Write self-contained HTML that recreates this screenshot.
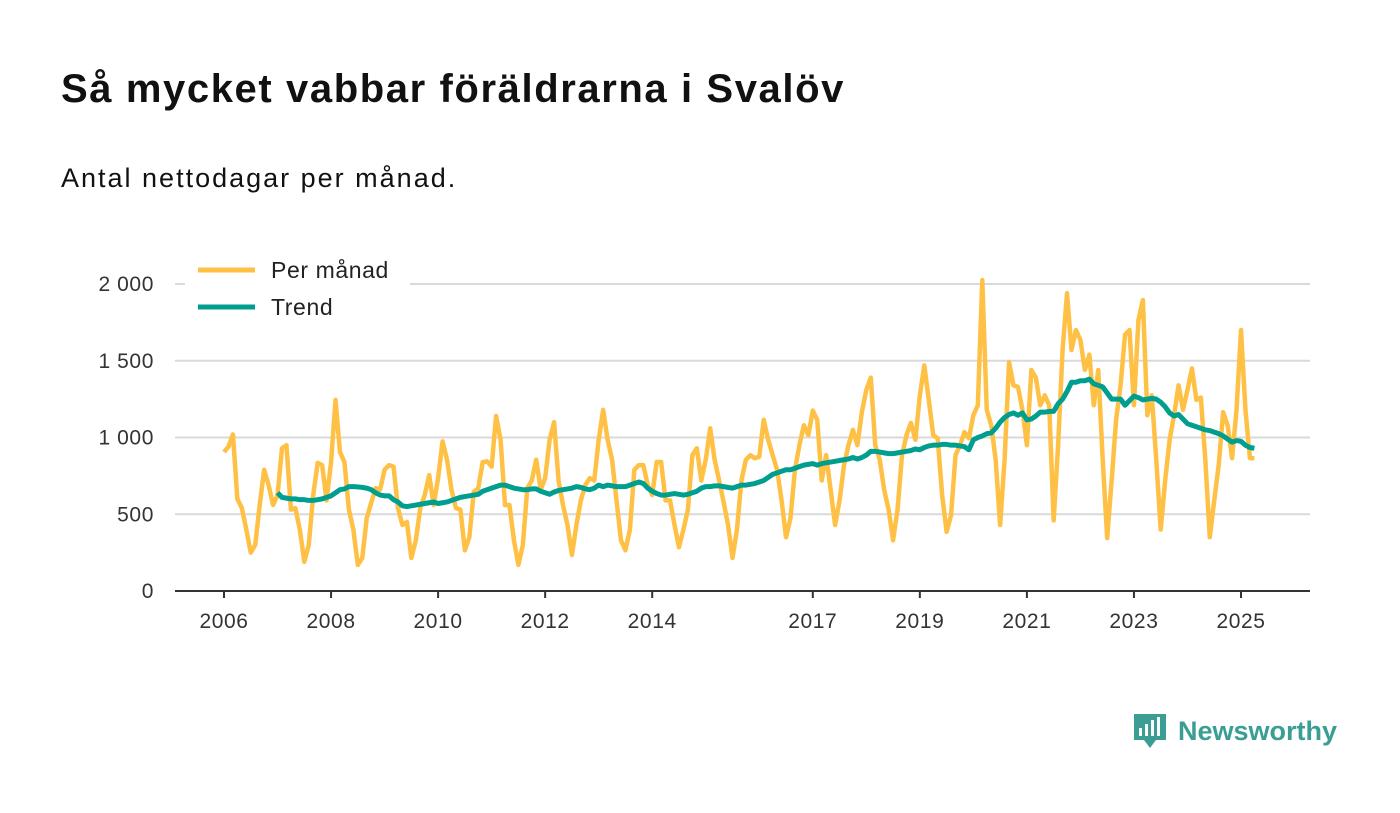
<!DOCTYPE html>
<html><head><meta charset="utf-8">
<style>
body{margin:0;background:#fff;width:1400px;height:813px;overflow:hidden;font-family:"Liberation Sans",sans-serif;}
#title{position:absolute;left:61px;top:67px;font-size:40px;font-weight:bold;color:#111;margin:0;letter-spacing:1.6px}
#sub{position:absolute;left:61px;top:163px;font-size:27px;color:#111;letter-spacing:2px}
svg{position:absolute;left:0;top:0}
</style></head><body>
<h1 id="title">Så mycket vabbar föräldrarna i Svalöv</h1>
<div id="sub">Antal nettodagar per månad.</div>
<svg id="chart" width="1400" height="813"></svg>
<script>
const yTicks=[0,500,1000,1500,2000];
const yTickLabels=["0","500","1 000","1 500","2 000"];
const xTickYears=[2006,2008,2010,2012,2014,2017,2019,2021,2023,2025];
const monthly=[
905,940,1020,600,540,400,250,300,560,790,690,560,
625,930,950,530,540,400,190,300,625,835,820,590,
840,1245,905,840,530,400,170,215,475,575,670,660,
790,820,810,540,430,450,215,330,540,625,755,560,
735,975,855,660,540,530,265,350,645,670,840,845,
810,1140,985,560,560,330,170,300,670,720,855,660,
735,985,1100,720,560,430,235,430,590,690,735,720,
985,1180,985,855,590,330,265,400,790,820,820,690,
625,840,840,590,590,430,285,400,530,885,930,720,
855,1060,855,720,580,430,215,400,720,855,885,865,
875,1115,985,885,790,590,350,475,790,950,1080,1015,
1175,1115,720,885,660,430,590,820,950,1050,950,1165,
1310,1390,950,855,660,530,330,530,885,1015,1095,985,
1275,1470,1245,1015,995,625,385,495,885,950,1035,995,
1145,1210,2025,1180,1080,855,430,855,1490,1340,1330,1180,
950,1440,1390,1210,1275,1210,460,950,1570,1940,1570,1700,
1635,1440,1540,1210,1440,855,345,720,1115,1340,1670,1700,
1210,1765,1895,1145,1275,855,400,720,985,1145,1340,1180,
1310,1450,1245,1260,855,350,590,820,1165,1080,865,1180,
1700,1180,865,865];
const trendStart=12;
const trend=[
640,610,605,600,600,595,595,590,590,595,600,610,
620,640,660,665,680,680,678,675,670,660,640,625,
620,620,595,580,555,550,555,560,565,570,575,580,
570,575,580,590,600,610,615,620,625,630,650,660,
670,680,690,690,680,670,665,660,660,665,665,650,
640,630,645,655,660,665,670,680,675,665,660,670,
690,680,690,685,680,680,680,690,700,710,700,670,
650,635,625,625,630,635,630,625,630,640,650,670,
680,680,685,685,680,675,670,680,690,690,695,700,
710,720,740,760,770,780,790,790,800,810,820,825,
830,820,830,835,840,845,850,855,860,870,860,870,
885,910,910,905,900,895,895,900,905,910,915,925,
920,935,945,950,950,955,955,950,950,945,940,920,
985,1000,1010,1025,1030,1060,1100,1130,1150,1160,1145,1160,
1115,1120,1140,1165,1165,1170,1170,1220,1250,1300,1360,1360,
1370,1370,1380,1350,1340,1330,1290,1250,1250,1250,1210,1240,
1270,1260,1245,1250,1255,1250,1230,1200,1160,1140,1150,1120,
1090,1080,1070,1060,1050,1045,1035,1025,1010,990,970,980,
975,950,935,930];
const NS="http://www.w3.org/2000/svg";
const svg=document.getElementById('chart');
const x0=224,x1=1241;
const xm=i=>x0+i*(x1-x0)/(19*12);
const xy=yr=>xm((yr-2006)*12);
const y=v=>591-v*(591-284)/2000;
function mk(t,a){const e=document.createElementNS(NS,t);for(const k in a)e.setAttribute(k,a[k]);svg.appendChild(e);return e;}
yTicks.forEach((v,i)=>{
 if(v>0){const g=mk('line',{x1:175,x2:1310,y1:y(v),y2:y(v),stroke:'#d9d9d9','stroke-width':2});
 
 }
 const t=mk('text',{x:154,y:y(v)+7,'text-anchor':'end','font-size':21,fill:'#333','letter-spacing':0.6});
 t.textContent=yTickLabels[i];
 
 
});
const ax=mk('line',{x1:175,x2:1310,y1:591,y2:591,stroke:'#333','stroke-width':2});


xTickYears.forEach(yr=>{
 const tk=mk('line',{x1:xy(yr),x2:xy(yr),y1:591,y2:598,stroke:'#333','stroke-width':2});
 
 
 const t=mk('text',{x:xy(yr),y:628,'text-anchor':'middle','font-size':21,fill:'#333','letter-spacing':0.6});
 t.textContent=yr;
 
 
});
const pm=mk('polyline',{points:monthly.map((v,i)=>xm(i)+','+y(v)).join(' '),fill:'none',stroke:'#ffc145','stroke-width':4.5,'stroke-linejoin':'round'});


const tr=mk('polyline',{points:trend.map((v,i)=>xm(i+trendStart)+','+y(v)).join(' '),fill:'none',stroke:'#009e8f','stroke-width':5,'stroke-linejoin':'round'});


const lb=mk('rect',{x:185,y:252,width:225,height:75,fill:'#fff'});


[['Per månad','#ffc145',270],['Trend','#009e8f',307]].forEach(([n,c,yy])=>{
 const l=mk('line',{x1:198,x2:255,y1:yy,y2:yy,stroke:c,'stroke-width':5});
 
 
 const t=mk('text',{x:271,y:yy+8,'font-size':23,fill:'#222','letter-spacing':0.6});
 t.textContent=n;
 
 
});
</script>
<svg width="1400" height="813" style="pointer-events:none">
<path d="M1134 714h32v26h-10l-6 8-6-8h-10z" fill="#3a9e94"/>
<rect x="1139" y="728" width="3" height="8" fill="#fff"/><rect x="1145" y="724" width="3" height="12" fill="#fff"/><rect x="1151" y="720" width="3" height="16" fill="#fff"/><rect x="1157" y="717" width="3" height="19" fill="#fff"/>
<text x="1178" y="740" font-size="27" font-weight="bold" fill="#3a9e94" font-family="Liberation Sans, sans-serif">Newsworthy</text>
</svg>
</body></html>
